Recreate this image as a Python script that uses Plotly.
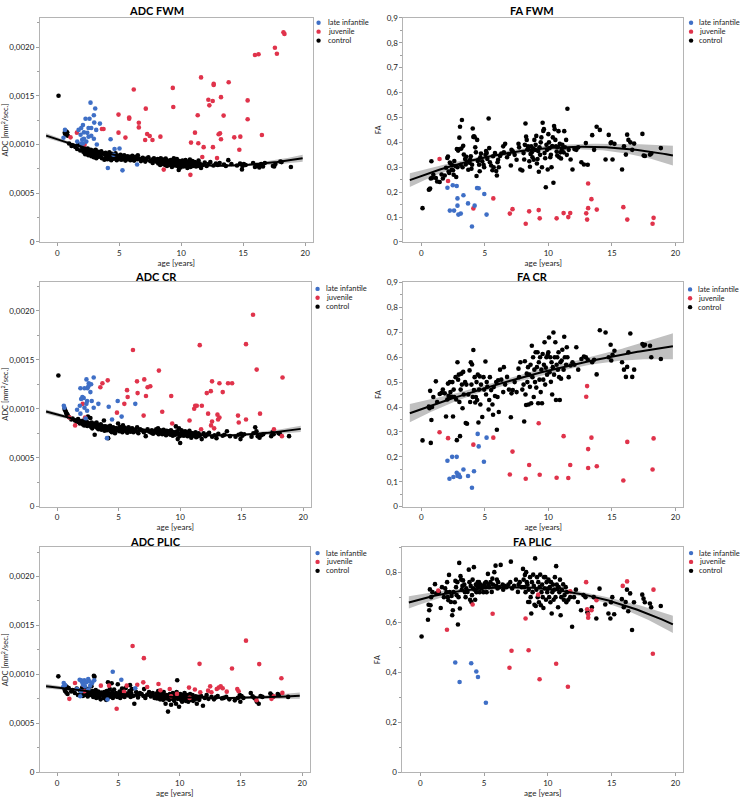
import numpy as np
import plotly.graph_objects as go

W, H = 743, 800
ADC_UNIT = 1e-6  # ADC lists below are in units of 1e-6 mm²/sec

# ---------------- shared control ages ----------------
control_age = [
    0.1, 0.6, 0.65, 0.7, 0.75, 0.8, 0.85, 0.95, 1.15, 1.25,
    1.45, 1.6, 1.7, 1.85, 1.95, 2.05, 2.1, 2.15, 2.2, 2.25,
    2.3, 2.4, 2.45, 2.5, 2.55, 2.6, 2.7, 2.75, 2.8, 2.85,
    2.9, 2.95, 3.0, 3.05, 3.1, 3.15, 3.2, 3.25, 3.3, 3.35,
    3.45, 3.5, 3.55, 3.6, 3.7, 3.8, 3.85, 3.9, 3.95, 4.0,
    4.05, 4.1, 4.15, 4.2, 4.25, 4.3, 4.35, 4.4, 4.45, 4.5,
    4.55, 4.6, 4.65, 4.7, 4.8, 4.9, 4.95, 5.05, 5.1, 5.15,
    5.2, 5.3, 5.35, 5.4, 5.5, 5.6, 5.65, 5.7, 5.8, 5.9,
    5.95, 6.0, 6.05, 6.1, 6.2, 6.3, 6.45, 6.5, 6.6, 6.75,
    6.9, 7.05, 7.1, 7.2, 7.35, 7.5, 7.65, 7.7, 7.8, 7.95,
    8.05, 8.1, 8.15, 8.2, 8.25, 8.3, 8.35, 8.4, 8.45, 8.5,
    8.55, 8.6, 8.65, 8.7, 8.75, 8.8, 8.85, 8.9, 8.95, 9.0,
    9.05, 9.1, 9.15, 9.2, 9.25, 9.3, 9.35, 9.4, 9.45, 9.5,
    9.55, 9.6, 9.65, 9.7, 9.75, 9.8, 9.85, 9.9, 9.95, 10.0,
    10.05, 10.1, 10.15, 10.2, 10.25, 10.3, 10.35, 10.4, 10.45, 10.5,
    10.55, 10.6, 10.65, 10.7, 10.75, 10.8, 10.85, 10.9, 10.95, 11.0,
    11.05, 11.1, 11.2, 11.25, 11.3, 11.4, 11.45, 11.5, 11.6, 11.75,
    11.9, 12.05, 12.2, 12.35, 12.6, 12.8, 12.95, 13.1, 13.45, 13.6,
    13.8, 14.05, 14.5, 14.75, 14.9, 14.95, 15.05, 15.2, 15.8, 15.95,
    16.1, 16.2, 16.3, 16.45, 16.6, 16.75, 17.4, 17.5, 17.6, 18.0,
    18.1, 18.85]

# ---------------- ADC FWM ----------------
adc_fwm_control = [
    1500, 1120, 1105, 1135, 1100, 1125, 1090, 1010, 985, 990,
    975, 955, 1000, 940, 985, 950, 925, 960, 935, 900,
    940, 915, 960, 890, 930, 905, 945, 880, 920, 895,
    935, 870, 920, 900, 945, 860, 910, 890, 925, 875,
    900, 880, 930, 860, 905, 845, 895, 915, 870, 890,
    850, 900, 875, 920, 860, 885, 840, 905, 870, 895,
    855, 890, 865, 910, 840, 875, 885, 860, 895, 845,
    880, 850, 870, 890, 835, 865, 880, 850, 875, 840,
    870, 845, 885, 860, 835, 875, 850, 890, 855, 830,
    865, 840, 825, 855, 870, 830, 845, 810, 860, 835,
    820, 850, 805, 840, 830, 790, 860, 815, 835, 800,
    845, 810, 825, 790, 855, 815, 780, 835, 800, 825,
    810, 790, 840, 815, 770, 830, 800, 860, 805, 785,
    825, 795, 850, 780, 815, 740, 830, 800, 765, 810,
    790, 835, 805, 775, 820, 795, 840, 780, 810, 760,
    825, 800, 785, 845, 770, 815, 795, 830, 780, 805,
    790, 820, 775, 810, 795, 835, 780, 805, 760, 790,
    815, 780, 800, 820, 785, 805, 790, 810, 795, 780,
    840, 800, 785, 805, 745, 780, 800, 790, 810, 770,
    790, 780, 765, 800, 775, 810, 780, 775, 800, 825,
    820, 770]
adc_fwm_li_age = [2.68, 3.06, 2.95, 2.28, 2.6, 3.44, 2.98, 2.07, 2.52, 2.74,
                  1.93, 1.72, 2.15, 2.42, 3.14, 1.88, 2.52, 2.74, 2.95, 2.15,
                  1.61, 2.01, 2.34, 2.07, 0.62, 0.5, 4.3, 3.19, 4.62, 5.02,
                  4.54, 4.08, 5.26, 6.44, 1.94]
adc_fwm_li = [1430, 1370, 1300, 1265, 1265, 1215, 1225, 1200, 1170, 1170,
              1170, 1150, 1125, 1120, 1150, 1100, 1080, 1090, 1060, 1060,
              1030, 1050, 1030, 1010, 1150, 1070, 1055, 1000, 955, 960,
              895, 760, 735, 795, 1010]
adc_fwm_juv_age = [18.25, 18.33, 17.56, 17.72, 16.24, 15.95, 11.6, 12.62, 12.62, 13.83,
                   6.17, 9.32, 12.19, 12.54, 12.27, 15.36, 13.21, 4.94, 9.36, 7.14,
                   11.33, 13.42, 5.8, 5.8, 6.58, 6.58, 15.36, 3.73, 3.6, 4.94,
                   1.58, 11.11, 7.25, 7.46, 13.13, 13.02, 5.5, 8.32, 1.07, 7.09,
                   7.68, 14.28, 14.77, 13.21, 16.51, 10.79, 11.38, 11.81, 12.56, 14.69,
                   2.2, 11.7, 12.89, 8.59, 10.74]
adc_fwm_juv = [2152, 2135, 1993, 1932, 1926, 1919, 1689, 1622, 1611, 1639,
               1564, 1581, 1460, 1446, 1402, 1453, 1486, 1307, 1385, 1368,
               1300, 1297, 1277, 1264, 1223, 1176, 1260, 1159, 1159, 1122,
               1122, 1122, 1108, 1088, 1115, 1105, 1071, 1081, 1074, 1047,
               1047, 1074, 1081, 1054, 1098, 1020, 1014, 973, 973, 946,
               997, 872, 861, 743, 689]

# ---------------- FA FWM ----------------
fa_fwm_control = [
    0.136, 0.21, 0.212, 0.215, 0.255, 0.324, 0.257, 0.27, 0.257, 0.243,
    0.241, 0.271, 0.255, 0.267, 0.298, 0.337, 0.343, 0.283, 0.277, 0.319,
    0.315, 0.29, 0.308, 0.288, 0.27, 0.325, 0.305, 0.261, 0.373, 0.3,
    0.367, 0.372, 0.419, 0.463, 0.31, 0.375, 0.49, 0.3, 0.386, 0.351,
    0.333, 0.311, 0.342, 0.323, 0.29, 0.318, 0.331, 0.344, 0.294, 0.31,
    0.456, 0.422, 0.424, 0.421, 0.38, 0.36, 0.265, 0.41, 0.325, 0.33,
    0.31, 0.284, 0.34, 0.355, 0.324, 0.31, 0.3, 0.35, 0.365, 0.357,
    0.333, 0.496, 0.377, 0.32, 0.307, 0.288, 0.344, 0.3, 0.357, 0.285,
    0.267, 0.32, 0.33, 0.3, 0.345, 0.355, 0.384, 0.36, 0.394, 0.34,
    0.353, 0.307, 0.37, 0.364, 0.35, 0.33, 0.394, 0.38, 0.291, 0.287,
    0.357, 0.331, 0.39, 0.476, 0.423, 0.41, 0.372, 0.384, 0.371, 0.324,
    0.302, 0.353, 0.384, 0.36, 0.34, 0.375, 0.33, 0.41, 0.37, 0.39,
    0.426, 0.315, 0.333, 0.365, 0.282, 0.38, 0.35, 0.4, 0.42, 0.3,
    0.479, 0.446, 0.453, 0.357, 0.336, 0.22, 0.39, 0.37, 0.291, 0.433,
    0.4, 0.377, 0.34, 0.35, 0.3, 0.385, 0.42, 0.238, 0.466, 0.453,
    0.41, 0.384, 0.363, 0.347, 0.381, 0.445, 0.34, 0.394, 0.36, 0.335,
    0.37, 0.39, 0.36, 0.445, 0.38, 0.41, 0.35, 0.535, 0.37, 0.331,
    0.291, 0.373, 0.37, 0.38, 0.32, 0.311, 0.397, 0.31, 0.429, 0.37,
    0.463, 0.45, 0.331, 0.43, 0.397, 0.4, 0.331, 0.394, 0.291, 0.384,
    0.351, 0.431, 0.41, 0.4, 0.37, 0.395, 0.434, 0.347, 0.345, 0.351,
    0.355, 0.377]
fa_fwm_li_age = [2.06, 2.48, 2.79, 4.39, 4.52, 2.25, 2.58, 2.85, 3.32, 2.85,
                 2.92, 3.11, 3.68, 4.2, 4.96, 5.14, 3.99]
fa_fwm_li = [0.218, 0.228, 0.225, 0.217, 0.216, 0.126, 0.126, 0.175, 0.188, 0.146,
             0.11, 0.114, 0.155, 0.146, 0.193, 0.11, 0.062]
fa_fwm_juv_age = [1.44, 2.11, 5.67, 4.1, 6.97, 7.18, 8.22, 8.49, 9.24, 9.32,
                  10.65, 11.2, 11.57, 11.72, 13.13, 13.39, 13.13, 12.98, 13.05, 13.81,
                  15.9, 16.21, 18.28, 18.2]
fa_fwm_juv = [0.333, 0.245, 0.175, 0.135, 0.114, 0.132, 0.073, 0.123, 0.128, 0.095,
              0.095, 0.116, 0.1, 0.116, 0.235, 0.172, 0.136, 0.115, 0.09, 0.13,
              0.14, 0.09, 0.097, 0.073]

# ---------------- ADC CR ----------------
adc_cr_control = [
    1340, 1000, 985, 970, 955, 945, 935, 915, 890, 900,
    880, 865, 895, 850, 875, 860, 840, 880, 830, 855,
    845, 870, 825, 920, 850, 835, 905, 815, 860, 800,
    840, 830, 850, 735, 825, 815, 860, 805, 830, 790,
    815, 800, 840, 785, 810, 880, 775, 820, 800, 795,
    780, 815, 700, 805, 790, 825, 770, 800, 760, 785,
    810, 775, 795, 750, 800, 780, 850, 770, 815, 790,
    795, 760, 830, 780, 805, 770, 790, 755, 810, 780,
    765, 795, 775, 800, 760, 785, 770, 810, 750, 790,
    780, 760, 775, 720, 790, 765, 755, 780, 745, 770,
    790, 755, 770, 800, 740, 765, 780, 750, 775, 760,
    740, 770, 785, 755, 745, 760, 730, 775, 750, 765,
    770, 745, 760, 735, 780, 750, 765, 725, 755, 740,
    760, 735, 820, 745, 770, 690, 750, 800, 720, 650,
    745, 780, 730, 755, 765, 725, 750, 770, 735, 745,
    760, 720, 745, 730, 775, 740, 755, 705, 735, 750,
    725, 745, 730, 760, 710, 740, 720, 750, 730, 690,
    750, 720, 740, 755, 715, 730, 700, 745, 725, 735,
    770, 720, 715, 735, 690, 745, 725, 740, 715, 750,
    810, 770, 720, 705, 730, 740, 720, 760, 740, 750,
    745, 720]
adc_cr_li_age = [0.54, 0.59, 2.38, 2.97, 2.57, 2.76, 2.46, 1.89, 2.22, 2.54,
                 2.7, 2.05, 2.16, 1.95, 2.43, 2.81, 3.35, 2.38, 1.84, 2.22,
                 2.97, 1.62, 2.43, 1.89, 2.32, 4.19, 4.92, 6.35, 5.24, 4.46,
                 4.05]
adc_cr_li = [1030, 1010, 1300, 1320, 1260, 1250, 1210, 1210, 1210, 1230,
             1170, 1120, 1110, 1100, 1080, 1080, 1050, 1050, 1030, 1010,
             1010, 990, 980, 950, 900, 1020, 1080, 1050, 920, 890,
             700]
adc_cr_juv_age = [18.32, 15.92, 15.35, 11.59, 16.22, 6.16, 8.27, 4.11, 3.68, 3.51,
                  6.49, 7.08, 7.57, 7.35, 5.68, 6.54, 5.73, 7.22, 5.46, 4.86,
                  8.54, 9.27, 7.03, 2.08, 1.0, 1.46, 2.27, 12.59, 13.19, 13.89,
                  14.22, 12.49, 12.16, 13.46, 11.22, 11.14, 11.35, 11.76, 12.27, 13.03,
                  13.19, 13.08, 12.59, 12.51, 12.76, 14.7, 14.76, 15.35, 16.49, 10.76,
                  9.35, 11.7, 17.62, 18.27]
adc_cr_juv = [1320, 1960, 1660, 1650, 1400, 1600, 1390, 1290, 1260, 1220,
              1280, 1300, 1230, 1220, 1190, 1160, 1120, 1130, 1050, 960,
              970, 1130, 930, 1050, 910, 830, 910, 1280, 1260, 1260,
              1260, 1180, 1160, 1170, 1030, 1000, 1030, 1030, 950, 940,
              910, 890, 870, 830, 800, 930, 860, 890, 950, 880,
              850, 790, 790, 720]

# ---------------- FA CR ----------------
fa_cr_control = [
    0.266, 0.402, 0.395, 0.465, 0.256, 0.348, 0.4, 0.44, 0.503, 0.42,
    0.452, 0.457, 0.47, 0.455, 0.362, 0.43, 0.494, 0.445, 0.441, 0.5,
    0.46, 0.441, 0.5, 0.362, 0.47, 0.44, 0.52, 0.43, 0.267, 0.58,
    0.51, 0.53, 0.42, 0.283, 0.47, 0.534, 0.49, 0.395, 0.541, 0.45,
    0.5, 0.336, 0.49, 0.333, 0.45, 0.547, 0.42, 0.58, 0.49, 0.571,
    0.44, 0.629, 0.468, 0.52, 0.418, 0.44, 0.5, 0.428, 0.53, 0.338,
    0.47, 0.523, 0.41, 0.49, 0.36, 0.52, 0.47, 0.583, 0.45, 0.5,
    0.481, 0.39, 0.428, 0.52, 0.468, 0.41, 0.369, 0.48, 0.444, 0.5,
    0.309, 0.44, 0.507, 0.38, 0.55, 0.51, 0.46, 0.56, 0.49, 0.521,
    0.47, 0.359, 0.455, 0.468, 0.5, 0.46, 0.554, 0.52, 0.58, 0.47,
    0.49, 0.342, 0.584, 0.45, 0.408, 0.534, 0.5, 0.56, 0.41, 0.53,
    0.481, 0.57, 0.415, 0.646, 0.52, 0.6, 0.44, 0.55, 0.5, 0.62,
    0.478, 0.56, 0.62, 0.415, 0.58, 0.51, 0.6, 0.46, 0.55, 0.415,
    0.613, 0.51, 0.57, 0.66, 0.49, 0.558, 0.6, 0.53, 0.61, 0.62,
    0.679, 0.54, 0.6, 0.501, 0.58, 0.45, 0.56, 0.699, 0.53, 0.6,
    0.66, 0.428, 0.57, 0.6, 0.55, 0.62, 0.52, 0.428, 0.58, 0.514,
    0.587, 0.63, 0.55, 0.682, 0.6, 0.57, 0.64, 0.6, 0.52, 0.567,
    0.58, 0.57, 0.64, 0.55, 0.593, 0.603, 0.6, 0.59, 0.58, 0.59,
    0.531, 0.708, 0.699, 0.6, 0.65, 0.587, 0.61, 0.626, 0.58, 0.55,
    0.521, 0.561, 0.62, 0.695, 0.521, 0.55, 0.653, 0.646, 0.65, 0.646,
    0.6, 0.593]
fa_cr_li_age = [2.06, 2.43, 2.79, 4.44, 4.52, 5.14, 4.93, 2.22, 2.53, 2.79,
                2.85, 3.05, 3.32, 3.68, 4.15, 3.99, 2.95]
fa_cr_li = [0.184, 0.2, 0.2, 0.292, 0.242, 0.277, 0.18, 0.112, 0.119, 0.136,
            0.123, 0.119, 0.149, 0.123, 0.142, 0.076, 0.129]
fa_cr_juv_age = [1.44, 2.11, 4.1, 5.67, 7.18, 6.97, 8.49, 8.22, 9.32, 9.24,
                 10.65, 11.2, 11.57, 11.72, 13.05, 12.98, 13.39, 13.13, 13.13, 13.81,
                 16.21, 15.9, 18.28, 18.2]
fa_cr_juv = [0.299, 0.275, 0.249, 0.277, 0.221, 0.129, 0.167, 0.112, 0.128, 0.335,
             0.116, 0.283, 0.115, 0.167, 0.484, 0.441, 0.277, 0.231, 0.155, 0.162,
             0.26, 0.105, 0.274, 0.149]

# ---------------- ADC PLIC ----------------
adc_plic_control = [
    980, 850, 830, 880, 815, 870, 800, 860, 825, 840,
    810, 855, 790, 835, 800, 865, 780, 845, 820, 790,
    860, 800, 835, 775, 850, 810, 825, 790, 880, 805,
    830, 770, 985, 975, 800, 840, 760, 815, 790, 825,
    770, 800, 745, 815, 790, 760, 820, 775, 805, 740,
    830, 790, 920, 810, 770, 850, 800, 780, 910, 820,
    760, 795, 845, 780, 810, 770, 900, 790, 825, 760,
    800, 855, 780, 815, 770, 860, 795, 805, 785, 830,
    890, 770, 810, 850, 780, 700, 820, 790, 765, 810,
    800, 780, 850, 760, 795, 820, 775, 790, 810, 760,
    780, 805, 755, 790, 830, 765, 800, 745, 785, 810,
    760, 795, 740, 820, 770, 785, 700, 755, 790, 760,
    620, 780, 740, 800, 760, 690, 775, 750, 810, 765,
    730, 790, 760, 700, 820, 940, 750, 780, 670, 765,
    800, 740, 775, 720, 790, 760, 745, 810, 770, 730,
    765, 790, 745, 720, 780, 755, 800, 740, 760, 775,
    790, 730, 760, 745, 775, 700, 755, 770, 740, 780,
    680, 760, 790, 750, 770, 745, 765, 780, 755, 760,
    770, 745, 735, 760, 790, 720, 780, 760, 810, 775,
    760, 745, 720, 700, 780, 770, 805, 790, 770, 800,
    790, 770]
adc_plic_li_age = [0.54, 0.65, 0.49, 1.84, 1.95, 2.05, 2.22, 2.38, 2.54, 2.65,
                   2.7, 2.27, 1.95, 1.89, 2.54, 2.86, 3.03, 4.54, 5.24, 4.11,
                   6.38, 2.11, 1.62]
adc_plic_li = [912, 892, 872, 946, 939, 919, 939, 919, 953, 929,
               885, 878, 828, 777, 845, 912, 939, 1027, 946, 743,
               858, 895, 851]
adc_plic_juv_age = [7.08, 6.16, 11.62, 15.41, 14.27, 16.49, 18.3, 18.38, 1.0, 1.46,
                    2.16, 2.22, 4.86, 3.57, 4.24, 5.46, 5.68, 6.54, 7.03, 7.35,
                    8.27, 8.43, 9.19, 9.3, 9.78, 10.76, 10.81, 11.24, 11.68, 12.32,
                    12.49, 12.59, 13.03, 13.19, 13.35, 13.51, 13.84, 14.7, 14.81, 16.27,
                    17.68, 17.49]
adc_plic_juv = [1166, 1290, 1108, 1345, 1061, 1105, 960, 811, 750, 912,
                889, 828, 649, 885, 885, 821, 885, 895, 919, 872,
                902, 838, 851, 777, 801, 865, 760, 845, 818, 834,
                878, 818, 851, 865, 878, 858, 824, 851, 828, 736,
                777, 750]

# ---------------- FA PLIC ----------------
fa_plic_control = [
    0.543, 0.61, 0.67, 0.648, 0.731, 0.668, 0.70, 0.72, 0.752, 0.715,
    0.72, 0.657, 0.74, 0.70, 0.735, 0.72, 0.76, 0.70, 0.688, 0.789,
    0.72, 0.681, 0.705, 0.628, 0.648, 0.72, 0.68, 0.765, 0.74, 0.708,
    0.76, 0.591, 0.7, 0.837, 0.655, 0.784, 0.77, 0.73, 0.745, 0.767,
    0.75, 0.72, 0.70, 0.735, 0.721, 0.81, 0.76, 0.69, 0.745, 0.681,
    0.708, 0.77, 0.735, 0.82, 0.73, 0.69, 0.75, 0.72, 0.745, 0.76,
    0.74, 0.76, 0.72, 0.75, 0.735, 0.745, 0.72, 0.755, 0.74, 0.76,
    0.72, 0.793, 0.75, 0.74, 0.76, 0.721, 0.774, 0.75, 0.80, 0.826,
    0.745, 0.77, 0.735, 0.76, 0.74, 0.829, 0.75, 0.73, 0.745, 0.74,
    0.75, 0.76, 0.842, 0.735, 0.745, 0.77, 0.721, 0.75, 0.76, 0.74,
    0.813, 0.77, 0.74, 0.789, 0.72, 0.8, 0.76, 0.75, 0.681, 0.73,
    0.681, 0.78, 0.70, 0.635, 0.76, 0.72, 0.79, 0.745, 0.67, 0.855,
    0.665, 0.73, 0.78, 0.70, 0.76, 0.68, 0.74, 0.79, 0.668, 0.72,
    0.75, 0.70, 0.657, 0.78, 0.735, 0.78, 0.69, 0.76, 0.72, 0.734,
    0.77, 0.70, 0.74, 0.68, 0.76, 0.635, 0.72, 0.75, 0.69, 0.73,
    0.78, 0.70, 0.824, 0.75, 0.734, 0.66, 0.74, 0.72, 0.77, 0.628,
    0.70, 0.73, 0.751, 0.69, 0.708, 0.74, 0.68, 0.72, 0.69, 0.70,
    0.582, 0.70, 0.73, 0.681, 0.648, 0.708, 0.70, 0.64, 0.66, 0.70,
    0.615, 0.734, 0.671, 0.635, 0.615, 0.68, 0.70, 0.632, 0.692, 0.66,
    0.681, 0.73, 0.644, 0.715, 0.569, 0.68, 0.71, 0.694, 0.68, 0.675,
    0.66, 0.665]
fa_plic_li_age = [2.74, 3.99, 4.39, 4.52, 3.08, 5.14]
fa_plic_li = [0.439, 0.436, 0.403, 0.381, 0.361, 0.278]
fa_plic_juv_age = [1.41, 2.09, 4.1, 5.67, 8.25, 9.24, 7.15, 8.49, 6.99, 10.65,
                   9.35, 11.57, 13.0, 13.08, 13.16, 13.16, 13.42, 13.81, 15.87, 16.21,
                   18.28, 18.23, 11.75]
fa_plic_juv = [0.726, 0.57, 0.671, 0.634, 0.615, 0.71, 0.486, 0.488, 0.418, 0.434,
               0.372, 0.342, 0.76, 0.652, 0.632, 0.618, 0.648, 0.688, 0.745, 0.763,
               0.73, 0.474, 0.723]

group_names = ["late infantile", "juvenile", "control"]
adc_ticks = [0, 0.0005, 0.0010, 0.0015, 0.0020]
adc_ticktext = ["0", "0,0005", "0,0010", "0,0015", "0,0020"]
fa9_ticks = [0, 0.1, 0.2, 0.3, 0.4, 0.5, 0.6, 0.7, 0.8, 0.9]
fa9_ticktext = ["0", "0,1", "0,2", "0,3", "0,4", "0,5", "0,6", "0,7", "0,8", "0,9"]
fa8_ticks = [0, 0.2, 0.4, 0.6, 0.8]
fa8_ticktext = ["0", "0,2", "0,4", "0,6", "0,8"]
age_ticks = [0, 5, 10, 15, 20]

BLUE = "#3f6fc6"
RED = "#e0334b"
BLACK = "#000000"
FONT = "Lato"


def adc(v):
    return [a * ADC_UNIT for a in v]


panels = [
    dict(title="ADC FWM", ytitle="ADC [mm<sup>2</sup>/sec.]", ctrl=adc(adc_fwm_control),
         li=(adc_fwm_li_age, adc(adc_fwm_li)), juv=(adc_fwm_juv_age, adc(adc_fwm_juv)),
         box=(39, 312, 13, 240), yr=[0, 0.0023], yt=(adc_ticks, adc_ticktext), minor=0.00025,
         tpos=(156, 6), leg=(318, 325, [18.0, 27.0, 36.0])),
    dict(title="FA FWM", ytitle="FA", ctrl=fa_fwm_control,
         li=(fa_fwm_li_age, fa_fwm_li), juv=(fa_fwm_juv_age, fa_fwm_juv),
         box=(403, 683, 13, 240), yr=[0, 0.9], yt=(fa9_ticks, fa9_ticktext), minor=0.05,
         tpos=(532, 6), leg=(691, 697, [18.0, 27.0, 36.0])),
    dict(title="ADC CR", ytitle="ADC [mm<sup>2</sup>/sec.]", ctrl=adc(adc_cr_control),
         li=(adc_cr_li_age, adc(adc_cr_li)), juv=(adc_cr_juv_age, adc(adc_cr_juv)),
         box=(39, 310, 280, 508), yr=[0, 0.0023], yt=(adc_ticks, adc_ticktext), minor=0.00025,
         tpos=(155, 275), leg=(317, 323, [287.5, 296.5, 305.5])),
    dict(title="FA CR", ytitle="FA", ctrl=fa_cr_control,
         li=(fa_cr_li_age, fa_cr_li), juv=(fa_cr_juv_age, fa_cr_juv),
         box=(403, 683, 281, 508), yr=[0, 0.9], yt=(fa9_ticks, fa9_ticktext), minor=0.05,
         tpos=(532, 275), leg=(690, 696, [288.0, 297.0, 306.0])),
    dict(title="ADC PLIC", ytitle="ADC [mm<sup>2</sup>/sec.]", ctrl=adc(adc_plic_control),
         li=(adc_plic_li_age, adc(adc_plic_li)), juv=(adc_plic_juv_age, adc(adc_plic_juv)),
         box=(39, 309, 549, 777), yr=[0, 0.0023], yt=(adc_ticks, adc_ticktext), minor=0.00025,
         tpos=(155, 543), leg=(317, 323, [555.0, 564.0, 573.0])),
    dict(title="FA PLIC", ytitle="FA", ctrl=fa_plic_control,
         li=(fa_plic_li_age, fa_plic_li), juv=(fa_plic_juv_age, fa_plic_juv),
         box=(402, 683, 549, 777), yr=[0, 0.9], yt=(fa8_ticks, fa8_ticktext), minor=0.1,
         tpos=(532, 543), leg=(691, 697, [555.0, 564.0, 573.0])),
]


def quad_fit_band(x, y, xs):
    x = np.asarray(x, float)
    y = np.asarray(y, float)
    X = np.column_stack([np.ones_like(x), x, x ** 2])
    beta, *_ = np.linalg.lstsq(X, y, rcond=None)
    resid = y - X @ beta
    s2 = resid @ resid / (len(x) - 3)
    cov = s2 * np.linalg.inv(X.T @ X)
    Xs = np.column_stack([np.ones_like(xs), xs, xs ** 2])
    yhat = Xs @ beta
    se = np.sqrt(np.einsum("ij,jk,ik->i", Xs, cov, Xs))
    return yhat, yhat - 1.97 * se, yhat + 1.97 * se


fig = go.Figure()
layout = dict(
    width=W, height=H, margin=dict(l=0, r=0, t=0, b=0),
    paper_bgcolor="white", plot_bgcolor="white", showlegend=False,
    font=dict(family=FONT, size=8, color="#222222"),
)
annotations = []
shapes = []

xs = np.linspace(-0.9, 19.8, 120)

for i, p in enumerate(panels, start=1):
    xa = "x" if i == 1 else f"x{i}"
    ya = "y" if i == 1 else f"y{i}"
    x0, x1, y0, y1 = p["box"]
    n = min(len(control_age), len(p["ctrl"]))
    cx, cy = control_age[:n], p["ctrl"][:n]
    yhat, lo, hi = quad_fit_band(cx, cy, xs)

    fig.add_trace(go.Scatter(
        x=np.concatenate([xs, xs[::-1]]), y=np.concatenate([hi, lo[::-1]]),
        fill="toself", fillcolor="rgba(150,150,150,0.6)", line=dict(width=0),
        mode="lines", hoverinfo="skip", xaxis=xa, yaxis=ya))
    fig.add_trace(go.Scatter(x=cx, y=cy, mode="markers", name="control",
                             marker=dict(color=BLACK, size=4.6), xaxis=xa, yaxis=ya))
    fig.add_trace(go.Scatter(x=p["juv"][0], y=p["juv"][1], mode="markers", name="juvenile",
                             marker=dict(color=RED, size=4.6), xaxis=xa, yaxis=ya))
    fig.add_trace(go.Scatter(x=p["li"][0], y=p["li"][1], mode="markers", name="late infantile",
                             marker=dict(color=BLUE, size=4.6), xaxis=xa, yaxis=ya))
    fig.add_trace(go.Scatter(x=xs, y=yhat, mode="lines", line=dict(color="black", width=2),
                             hoverinfo="skip", xaxis=xa, yaxis=ya))

    axis_common = dict(showline=True, linecolor="#b4b4b4", linewidth=1, mirror=True,
                       ticks="outside", ticklen=3, tickcolor="#a0a0a0", showgrid=False,
                       zeroline=False, tickfont=dict(family=FONT, size=8, color="#222222"))
    layout["xaxis" if i == 1 else f"xaxis{i}"] = dict(
        axis_common, domain=[x0 / W, x1 / W], range=[-1.4, 20.6], anchor=ya,
        tickvals=age_ticks, ticktext=[str(t) for t in age_ticks],
        title=dict(text="age [years]", font=dict(family=FONT, size=8), standoff=1))
    layout["yaxis" if i == 1 else f"yaxis{i}"] = dict(
        axis_common, domain=[1 - y1 / H, 1 - y0 / H], range=p["yr"], anchor=xa,
        tickvals=p["yt"][0], ticktext=p["yt"][1],
        minor=dict(ticks="outside", ticklen=2, tickcolor="#a0a0a0", dtick=p["minor"]),
        title=dict(text=p["ytitle"], font=dict(family=FONT, size=7.5), standoff=4))

    annotations.append(dict(
        text=f"<b>{p['title']}</b>", x=p["tpos"][0] / W, y=1 - p["tpos"][1] / H,
        xref="paper", yref="paper", xanchor="center", yanchor="middle", showarrow=False,
        font=dict(family=FONT, size=11, color="black")))

    mx, tx, ys = p["leg"]
    for name, col, yy in zip(group_names, [BLUE, RED, BLACK], ys):
        r = 2.2
        shapes.append(dict(type="circle", xref="paper", yref="paper",
                           x0=(mx - r) / W, x1=(mx + r) / W,
                           y0=1 - (yy + r) / H, y1=1 - (yy - r) / H,
                           fillcolor=col, line=dict(width=0)))
        annotations.append(dict(
            text=name, x=tx / W, y=1 - yy / H, xref="paper", yref="paper",
            xanchor="left", yanchor="middle", showarrow=False,
            font=dict(family=FONT, size=7.5, color="#222222")))

layout["annotations"] = annotations
layout["shapes"] = shapes
fig.update_layout(**layout)
fig.write_html("out.html", config={"displayModeBar": False},
               post_script="document.body.style.margin='0px';document.body.style.overflow='hidden';")
